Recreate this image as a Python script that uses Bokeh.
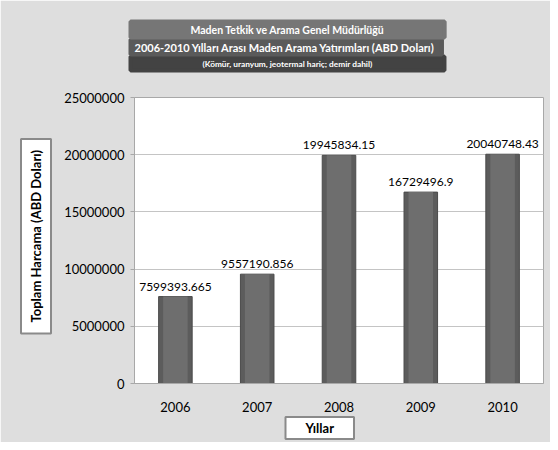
from bokeh.plotting import figure
from bokeh.models import Title, NumeralTickFormatter, FixedTicker, Range1d
from bokeh.core.properties import value
from bokeh.embed import file_html
from bokeh.resources import INLINE

# ---- data ----
years = ["2006", "2007", "2008", "2009", "2010"]
spending = [7599393.665, 9557190.856, 19945834.15, 16729496.9, 20040748.43]
value_labels = [str(v) for v in spending]
y_ticks = [0, 5000000, 10000000, 15000000, 20000000, 25000000]

title_lines = [
    "Maden Tetkik ve Arama Genel Müdürlüğü",
    "2006-2010 Yılları Arası  Maden Arama Yatırımları (ABD Doları)",
    "(Kömür, uranyum, jeotermal hariç; demir dahil)",
]
y_title = "Toplam Harcama (ABD Doları)"
x_title = "Yıllar"

FONT = "Lato"
BG = "#dedede"

# frame placement in canvas pixels
FL, FR, FT, FB = 128, 543, 97, 383
W, H = 550, 442

p = figure(width=W, height=H, x_range=years, y_range=Range1d(0, 25000000),
           output_backend="svg", toolbar_location=None,
           min_border_left=FL, min_border_right=W - FR,
           min_border_top=FT, min_border_bottom=H - FB)
p.title.visible = False
p.title.standoff = 0
p.border_fill_color = BG
p.background_fill_color = "white"
p.outline_line_color = "#a8a8a8"

p.xgrid.grid_line_color = None
p.ygrid.grid_line_color = "#c4c4c4"

p.yaxis.ticker = FixedTicker(ticks=y_ticks)
p.yaxis.formatter = NumeralTickFormatter(format="0")
p.yaxis.axis_line_color = "#a8a8a8"
p.yaxis.major_tick_line_color = "#a8a8a8"
p.yaxis.major_tick_out = 4
p.yaxis.major_tick_in = 0
p.yaxis.minor_tick_line_color = None
p.yaxis.major_label_standoff = 6
p.yaxis.major_label_text_font = FONT
p.yaxis.major_label_text_font_size = "13px"
p.yaxis.major_label_text_color = "black"

p.xaxis.axis_line_color = "#a8a8a8"
p.xaxis.major_tick_line_color = None
p.xaxis.minor_tick_line_color = None
p.xaxis.major_label_standoff = 12
p.xaxis.major_label_text_font = FONT
p.xaxis.major_label_text_font_size = "13px"
p.xaxis.major_label_text_color = "black"

# bars with a slightly lighter core for a bevelled look
p.vbar(x=years, top=spending, width=0.41, fill_color="#5c5c5c",
       line_color="#4a4a4a", line_width=1)
p.vbar(x=years, top=spending, width=0.30, fill_color="#6e6e6e", line_color=None)
p.text(x=years, y=spending, text=value_labels, y_offset=-6,
       text_align="center", text_baseline="bottom",
       text_font=value(FONT), text_font_size="12px", text_color="black")

# ---- title block: three stacked titles forming one dark box ----
BOX_W = 314
est_w = [194, 305, 169]          # estimated text widths (px)
sizes = ["10.5px", "11px", "8.3px"]
fills = ["#767676", "#5a5a5a", "#434343"]
vpad = [2, 1, 2]

titles = []
for txt, w, fs, fc, pv in zip(title_lines, est_w, sizes, fills, vpad):
    ph = max(0, int(round((BOX_W - w) / 2)))
    titles.append(Title(text=txt, align="left", offset=-4, standoff=0,
                        text_font=FONT, text_font_style="bold",
                        text_font_size=fs, text_color="white",
                        background_fill_color=fc,
                        border_line_color=fc, border_line_width=4,
                        padding=dict(left=ph, right=ph, top=pv, bottom=pv)))

# spacer (text in background colour) keeps the title block above the plot area
spacer = Title(text=".", text_color=BG, text_font_size="1px", standoff=24)
p.add_layout(spacer, "above")
for t in reversed(titles):
    p.add_layout(t, "above")

# y-axis title box
p.add_layout(Title(text=y_title, align="left", offset=50, standoff=21,
                   text_font=FONT, text_font_style="bold", text_font_size="13px",
                   text_color="black", background_fill_color="white",
                   border_line_color="#8a8a8a", border_line_width=2,
                   padding=dict(left=11, right=11, top=7, bottom=7)), "left")

# x-axis title box
p.add_layout(Title(text=x_title, align="left", offset=151, standoff=1,
                   text_font=FONT, text_font_style="bold", text_font_size="13px",
                   text_color="black", background_fill_color="white",
                   border_line_color="#8a8a8a", border_line_width=2,
                   padding=dict(left=20, right=20, top=3, bottom=3)), "below")

open("out.html", "w").write(file_html(p, INLINE))
